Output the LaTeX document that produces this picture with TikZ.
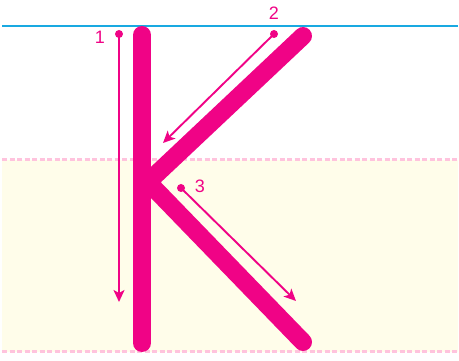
\documentclass[tikz,border=0pt]{standalone}
\usepackage{fontspec}
\setmainfont{Liberation Sans}
\usetikzlibrary{arrows.meta}
\definecolor{kpink}{HTML}{F00386}
\definecolor{kblue}{HTML}{19A9E1}
\definecolor{kdash}{HTML}{FFC3DD}
\definecolor{kyellow}{HTML}{FFFDEA}
\tikzset{
  stroke/.style={line width=18pt, line cap=round, line join=round, kpink},
  guide/.style={line width=1.9pt, kpink, -{Stealth[length=12pt,width=11pt,inset=3pt]}},
  dotstart/.style={circle, fill=kpink, inner sep=0pt, minimum size=8pt},
  numlabel/.style={text=kpink, font=\fontsize{18}{18}\selectfont, inner sep=0pt},
  dashline/.style={kdash, line width=3pt, dash pattern=on 5pt off 2.5pt}
}
\begin{document}
\begin{tikzpicture}[x=1pt,y=-1pt]
\useasboundingbox (0,0) rectangle (459,361);
\fill[white] (0,0) rectangle (459,361);
\fill[kyellow] (2,160) rectangle (458,352);
\draw[kblue, line width=2.5pt] (2,26) -- (458,26);
\draw[dashline] (2,160) -- (458,160);
\draw[dashline] (2,352) -- (458,352);
% K strokes
\coordinate (stemtop) at (142,35);
\coordinate (stembot) at (142,343);
\coordinate (armtop) at (303,36);
\coordinate (joint) at (148,182);
\coordinate (legbot) at (303,342);
\draw[stroke] (stemtop) -- (stembot);
\draw[stroke] (armtop) -- (joint) -- (legbot);
% guides
\node[dotstart] (d1) at (119,34) {};
\coordinate (e1) at (119,302);
\draw[guide] (d1.center) -- (e1);
\node[numlabel] (n1) at (100,37) {1};
\node[dotstart] (d2) at (274,34) {};
\coordinate (e2) at (163,143);
\draw[guide] (d2.center) -- (e2);
\node[numlabel] (n2) at (274,13) {2};
\node[dotstart] (d3) at (181,188) {};
\coordinate (e3) at (296,301);
\draw[guide] (d3.center) -- (e3);
\node[numlabel] (n3) at (200,186) {3};
\end{tikzpicture}
\end{document}
